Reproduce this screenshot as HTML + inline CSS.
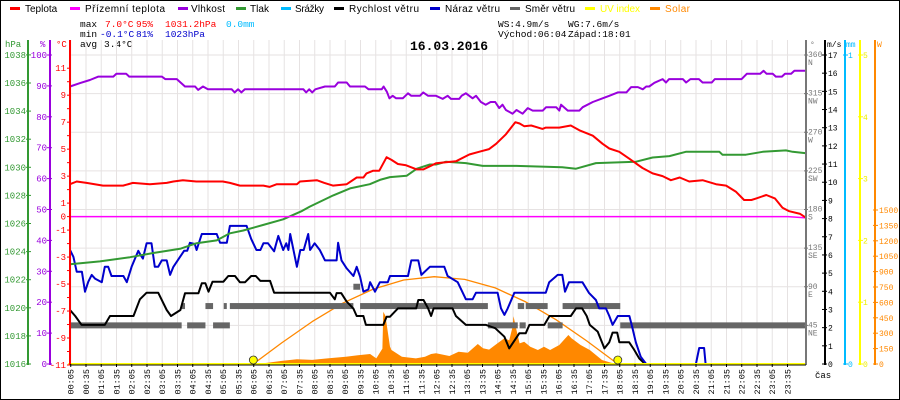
<!DOCTYPE html>
<html><head><meta charset="utf-8">
<style>
html,body{margin:0;padding:0;background:#fff}
svg{display:block;font-family:"Liberation Sans",sans-serif}
</style></head>
<body>
<svg id="c" width="900" height="400" viewBox="0 0 900 400" xmlns="http://www.w3.org/2000/svg">
<rect x="0.5" y="0.5" width="899" height="399" fill="#fff" stroke="#000"/>
<g font-size="10">
 <g><rect x="10" y="7" width="10" height="3" fill="#f00"/><text x="25" y="12">Teplota</text></g>
 <g><rect x="70" y="7" width="10" height="3" fill="#f0f"/><text x="85" y="12" textLength="80">Přízemní teplota</text></g>
 <g><rect x="178" y="7" width="10" height="3" fill="#90d"/><text x="191" y="12" textLength="34">Vlhkost</text></g>
 <g><rect x="236" y="7" width="10" height="3" fill="#393"/><text x="250" y="12" textLength="19">Tlak</text></g>
 <g><rect x="281" y="7" width="10" height="3" fill="#0bf"/><text x="295" y="12" textLength="29">Srážky</text></g>
 <g><rect x="334" y="7" width="10" height="3" fill="#000"/><text x="349" y="12" textLength="70">Rychlost větru</text></g>
 <g><rect x="430" y="7" width="10" height="3" fill="#00c"/><text x="445" y="12" textLength="55">Náraz větru</text></g>
 <g><rect x="510" y="7" width="10" height="3" fill="#666"/><text x="525" y="12" textLength="50">Směr větru</text></g>
 <g><rect x="585" y="7" width="10" height="3" fill="#ff0"/><text x="600" y="12" fill="#ff0" textLength="40">UV index</text></g>
 <g><rect x="650" y="7" width="10" height="3" fill="#f80"/><text x="665" y="12" fill="#f80" textLength="25">Solar</text></g>
</g>
<g font-size="9.5" font-family="Liberation Mono, monospace">
 <text x="80" y="27">max</text><text x="105" y="27" fill="#f00">7.0°C</text><text x="136" y="27" fill="#f00">95%</text><text x="165" y="27" fill="#f00">1031.2hPa</text><text x="226" y="27" fill="#0bf">0.0mm</text>
 <text x="80" y="37">min</text><text x="100" y="37" fill="#00c">-0.1°C</text><text x="136" y="37" fill="#00c">81%</text><text x="165" y="37" fill="#00c">1023hPa</text>
 <text x="80" y="47">avg</text><text x="104" y="47">3.4°C</text>
 <text x="498" y="27">WS:4.9m/s</text><text x="568" y="27">WG:7.6m/s</text>
 <text x="498" y="37">Východ:06:04</text><text x="568" y="37">Západ:18:01</text>
</g>
<g id="grid"></g>
<text x="449" y="50" text-anchor="middle" font-size="13" font-weight="bold" font-family="Liberation Mono, monospace">16.03.2016</text>
<g id="series"></g>
<g id="axes"></g>
</svg>
<script>
// ---- data ----
const tempT=[0.06,0.28,0.6,1.14,1.8,2.12,2.68,3.23,3.45,3.76,4.2,5.07,5.3,5.63,6.4,6.6,6.84,7.5,7.6,8.15,8.4,8.68,9.13,9.46,9.68,9.78,10.0,10.2,10.44,10.6,10.81,11.08,11.43,11.65,12.06,12.71,13.15,13.47,13.8,14.03,14.35,14.66,14.8,14.95,15.18,15.55,15.66,16.1,16.48,16.76,17.2,17.52,17.74,18.07,18.39,18.83,19.16,19.49,19.76,20.05,20.36,20.8,21.24,21.57,21.89,22.16,22.4,22.56,22.89,23.17,23.42,23.64,24.0,24.2];
const tempV=[2.4,2.6,2.5,2.3,2.3,2.5,2.4,2.5,2.6,2.7,2.6,2.6,2.5,2.3,2.3,2.2,2.4,2.4,2.6,2.7,2.5,2.3,2.4,2.9,2.9,3.2,3.4,3.4,4.4,4.2,3.9,3.8,3.5,3.5,3.95,4.1,4.6,4.8,5.0,5.4,6.1,7.0,6.9,6.7,6.75,6.5,6.6,6.6,6.75,6.4,6.0,5.4,5.05,4.8,4.3,3.6,3.2,3.0,2.7,2.9,2.6,2.7,2.4,2.3,1.85,1.23,1.23,1.35,1.6,1.35,0.66,0.4,0.2,-0.1];
const groundT=[0.06,23.6,24.2];
const groundV=[0,0,-0.1];
const humT=[0.06,0.39,0.71,0.99,1.48,1.58,1.9,2.0,3.07,3.18,3.56,3.83,4.16,4.26,4.42,4.58,5.36,5.46,5.57,5.68,5.79,7.71,7.8,7.9,8.0,8.1,8.42,8.74,8.85,9.13,9.24,9.73,9.85,10.28,10.34,10.45,10.53,10.64,10.75,10.97,11.14,11.25,11.53,11.64,11.8,12.06,12.28,12.44,12.55,12.82,12.9,13.04,13.26,13.37,13.53,13.69,13.85,14.0,14.13,14.24,14.35,14.57,14.7,14.9,15.07,15.23,15.56,15.67,16.0,16.1,16.16,16.38,16.76,16.87,17.2,17.52,17.74,18.02,18.3,18.46,18.68,18.84,18.95,19.05,19.22,19.49,19.6,19.7,20.15,20.26,20.4,20.68,20.8,21.1,21.2,22.08,22.25,22.69,22.8,22.9,23.1,23.2,23.4,23.5,23.7,23.81,24.2];
const humV=[89.8,90.9,91.9,93,93,93.9,93.9,93,93,92.2,92.2,89.8,89.8,88.7,89.8,88.9,88.9,87.9,88.9,87.9,88.9,88.9,87.9,88.9,87.9,88.9,89.8,89.8,91.1,91.1,89.8,89.8,88.9,88.9,89.8,88.1,86,86.8,86,86,87.6,86.8,86.8,87.9,86.8,86.8,85.8,86.8,85.8,85.8,86.8,87.6,86,86.8,84.8,83.9,84.8,84.8,82.8,83.9,82.2,81,82.2,81,82.8,82,82,83.1,83.1,82,83.9,82,82,83.1,84.8,86,86.8,87.9,87.9,89.6,89.6,88.9,89.8,89.8,91,92.2,91.1,92.2,92.2,91.1,92.2,92.2,91.1,91.1,92.2,92.2,93.9,93.9,94.9,93.9,93.9,93,93,93.9,93.9,94.9,94.9];
const presT=[0.06,1.04,2.03,2.79,3.67,4.21,4.87,5.3,5.74,6.4,7.05,7.67,7.92,8.69,9.24,9.89,10.22,10.55,11.1,11.43,11.86,12.06,12.39,13.04,13.59,14.7,16.2,16.65,17.3,18.62,19.16,19.71,20.25,21.35,21.45,22.22,22.77,23.53,23.75,24.2];
const presV=[1023.1,1023.3,1023.6,1023.9,1024.2,1024.6,1024.8,1025.3,1025.5,1025.9,1026.3,1026.9,1027.2,1028.0,1028.5,1028.8,1029.1,1029.3,1029.4,1029.9,1030.2,1030.2,1030.4,1030.3,1030.1,1030.1,1030.0,1029.9,1030.3,1030.4,1030.7,1030.8,1031.1,1031.1,1030.9,1030.9,1031.1,1031.2,1031.1,1031.0];
const speedT=[0.06,0.23,0.44,1.2,1.37,2.14,2.35,2.57,2.95,3.23,3.37,3.68,3.83,4.27,4.38,4.5,4.6,4.73,5.09,5.25,5.47,5.63,5.8,6.0,6.15,6.3,6.62,6.75,8.58,8.74,8.8,8.95,9.13,9.35,9.46,9.68,9.76,10.33,10.44,10.55,10.81,11.41,11.48,11.65,11.8,11.9,11.98,12.2,12.6,12.71,13.04,13.7,14.0,14.3,14.46,14.79,15.0,15.12,15.61,15.78,16.48,16.65,16.85,17.0,17.1,17.36,17.58,17.74,17.85,18.0,18.07,18.39,18.55,18.72,18.89,18.95,24.2];
const speedV=[2.97,2.64,2.15,2.15,2.64,2.64,3.56,3.92,3.92,2.97,2.64,2.97,3.89,3.89,4.44,4.44,3.98,4.53,4.53,4.84,4.84,4.5,4.5,4.84,4.84,4.57,4.57,3.92,3.92,3.56,3.9,3.9,3.43,3.05,2.64,2.64,2.15,2.15,2.6,2.6,3.06,3.06,3.52,3.52,3.06,2.64,3.06,3.06,3.06,2.64,2.15,2.15,1.97,1.5,0.86,1.69,1.69,2.15,2.15,2.64,2.64,3.06,3.06,2.64,2.15,1.78,0.86,1.2,1.73,1.73,1.2,1.2,0.8,0.31,0.04,0,0];
const gustT=[0.06,0.17,0.28,0.45,0.55,0.66,0.77,0.88,1.1,1.2,1.31,1.42,1.81,1.92,2.08,2.19,2.3,2.37,2.45,2.57,2.73,2.84,2.95,3.07,3.23,3.34,3.45,3.63,3.8,3.9,3.99,4.15,4.21,4.38,4.87,4.98,5.2,5.3,5.85,6.0,6.17,6.3,6.4,6.55,6.75,6.89,7.05,7.15,7.22,7.28,7.5,7.61,7.72,7.87,7.93,8.08,8.25,8.42,8.8,8.85,8.96,9.13,9.35,9.46,9.57,9.68,9.84,9.9,10.06,10.22,10.48,10.55,11.14,11.25,11.48,11.58,11.86,12.06,12.33,12.44,12.77,13.04,13.26,13.37,14.08,14.19,14.3,14.41,14.63,15.66,15.77,16.05,16.2,16.29,16.42,16.86,17.08,17.3,17.41,17.63,17.74,17.85,18.02,18.4,18.5,18.61,18.77,18.95,20.58,20.69,20.85,20.9,24.2];
const gustV=[6.27,5.9,5.08,5.08,3.98,4.53,4.9,4.7,4.5,5.35,5.35,4.84,4.84,4.5,5.35,5.8,6.23,6.0,5.8,6.64,6.64,5.35,5.35,5.7,5.7,4.9,5.35,5.8,6.23,6.23,6.67,6.6,6.27,7.15,7.15,6.67,6.67,7.6,7.6,6.88,6.27,6.27,6.64,6.64,6.2,7.05,6.27,6.64,6.27,7.15,5.35,6.27,6.27,7.15,6.27,6.64,6.27,5.7,5.7,6.67,5.7,5.26,4.84,5.35,4.8,3.98,4.1,4.5,3.98,4.5,4.5,4.84,4.84,5.7,5.7,4.9,5.35,5.35,5.35,4.84,4.5,3.56,3.56,3.92,3.92,3.06,2.7,3.06,3.92,3.92,4.5,4.9,4.9,3.98,4.5,4.5,3.9,3.52,3.06,3.06,2.64,2.15,2.64,2.64,1.97,1.2,0.4,0,0,0.88,0.88,0,0];
// wind direction segments: start hour, end hour, degrees
const dirStart=[0.06,3.72,3.9,4.5,4.75,5.1,5.3,9.35,9.57,13.76,14.74,14.8,15.0,15.72,16.21,18.1];
const dirEnd=[3.72,3.83,4.5,4.75,5.3,5.2,9.35,9.57,13.76,14.74,14.95,15.0,15.72,16.21,18.1,24.2];
const dirV=[45,67.5,45,67.5,45,67.5,67.5,90,67.5,45,67.5,45,67.5,45,67.5,45];
const solarT=[6.2,6.6,7.0,7.5,8.0,8.5,9.1,9.5,9.9,10.1,10.3,10.33,10.4,10.55,10.6,10.94,11.4,11.7,11.9,12.06,12.5,12.8,13.1,13.43,13.6,13.8,14.0,14.3,14.46,14.57,14.6,14.7,14.8,14.95,15.15,15.4,15.6,15.8,16.1,16.3,16.4,16.5,16.8,17.1,17.3,17.5,17.8,18.1];
const solarV=[0,15,30,46,40,55,71,85,97,55,150,509,470,168,136,71,55,71,97,104,78,120,110,195,153,140,185,250,230,363,467,330,201,217,168,136,168,136,185,250,282,250,185,136,88,39,13,0];
const theoT=[6.07,7,8,9,10,11,12,13,14,15,16,17,18.02];
const theoV=[0,206,413,592,730,818,850,824,741,605,431,225,0];
const uvT=[0,24.2];
const uvV=[0,0];
const hpaTicks=[1016,1018,1020,1022,1024,1026,1028,1030,1032,1034,1036,1038];
const humTicks=[0,10,20,30,40,50,60,70,80,90,100];
const tempLabels=[11,9,7,5,3,1,0,-1,-3,-5,-7,-9,-11];
const dirTicks=[45,90,135,180,225,270,315,360];
const dirNames=["NE","E","SE","S","SW","W","NW","N"];
const msTicks=[0,1,2,3,4,5,6,7,8,9,10,11,12,13,14,15,16,17];
const uvTicks=[0,1,2,3,4,5];
const wTicks=[0,150,300,450,600,750,900,1050,1200,1350,1500];
const timeLabels=[];for(let h=0;h<24;h++){const hh=String(h).padStart(2,'0');timeLabels.push(hh+':05',hh+':35');}

// ---- scales ----
const TOP=55,BOT=364;
const X=h=>68.2+h*30.5;
const yT=v=>216.6-v*13.49;
const yH=v=>364-v*3.09;
const yP=v=>364-(v-1016)*14.05;
const yS=v=>BOT-v*(309/17);
const yD=v=>BOT-v*(309/360);
const yW=v=>BOT-v*(154/1500);
const yUV=v=>BOT-v*(309/5);
const NS='http://www.w3.org/2000/svg';
function mk(tag,attrs,parent){const e=document.createElementNS(NS,tag);for(const k in attrs)e.setAttribute(k,attrs[k]);parent.appendChild(e);return e;}
const grid=document.getElementById('grid'),ser=document.getElementById('series'),ax=document.getElementById('axes');

for(let i=0;i<48;i++){const x=X(i*0.5+1/12);
 const l=mk('line',{x1:x,x2:x,y1:40,y2:BOT,stroke:'#e6e2e2','stroke-width':1},grid);
 
 }
dirTicks.forEach(d=>{const y=yD(d);
 const l=mk('line',{x1:70,x2:806,y1:y,y2:y,stroke:'#e6e2e2','stroke-width':1},grid);
 
 });

function line(T,V,fy,color,w,name){
 const pts=T.map((t,i)=>X(t).toFixed(1)+','+fy(V[i]).toFixed(1)).join(' ');
 const p=mk('polyline',{points:pts,fill:'none',stroke:color,'stroke-width':w,'stroke-linejoin':'round'},ser);
 
 
 return p;}

{const pts=[X(solarT[0])+','+BOT].concat(solarT.map((t,i)=>X(t).toFixed(1)+','+yW(solarV[i]).toFixed(1))).concat([X(solarT[solarT.length-1])+','+BOT]).join(' ');
 const p=mk('polygon',{points:pts,fill:'#f80',stroke:'none'},ser);
 
 }
line(theoT,theoV,yW,'#f80',1.3,'solar-theoretical-line');
dirV.forEach((d,i)=>{const y=yD(d);
 const r=mk('rect',{x:X(dirStart[i]),y:y-3,width:Math.max(1,X(dirEnd[i])-X(dirStart[i])),height:6,fill:'#666'},ser);
 
 });
line(speedT,speedV,yS,'#000',2,'wind-speed-line');
line(gustT,gustV,yS,'#00c',2,'wind-gust-line');
line(presT,presV,yP,'#393',2,'pressure-line');
line(humT,humV,yH,'#90d',2,'humidity-line');
line(groundT,groundV,yT,'#f0f',1.5,'ground-temp-line');
line(tempT,tempV,yT,'#f00',2,'temperature-line');
line(uvT,uvV,yUV,'#ff0',2,'uv-index-line');
[theoT[0],theoT[theoT.length-1]].forEach(t=>{
 const c=mk('circle',{cx:X(t),cy:BOT-4,r:4,fill:'#ff0',stroke:'#333','stroke-width':0.8},ser);
 
 });

function vaxis(x,color,name){const l=mk('line',{x1:x,x2:x,y1:40,y2:BOT+1,stroke:color,'stroke-width':2},ax);
 
 }
function txt(x,y,s,color,anchor,size,name){const t=mk('text',{x:x,y:y,fill:color,'font-size':size||9,'text-anchor':anchor||'start','font-family':'Liberation Mono, monospace'},ax);t.textContent=s;
 
 return t;}
function tick(x1,x2,y,color){const l=mk('line',{x1:x1,x2:x2,y1:y,y2:y,stroke:color,'stroke-width':1},ax);
 
 }
vaxis(28,'#393','pressure-axis');vaxis(50,'#90d','humidity-axis');vaxis(70,'#f00','temperature-axis');
txt(5,47,'hPa','#393','start',9,'pressure-axis-title');txt(40,47,'%','#90d','start',9,'humidity-axis-title');txt(56,47,'°C','#f00','start',9,'temperature-axis-title');
hpaTicks.forEach(v=>{const y=yP(v);tick(26,31,y,'#393');txt(26,y+3,String(v),'#393','end',9,'pressure-tick-label');});
humTicks.forEach(v=>{const y=yH(v);tick(47,52,y,'#90d');txt(47,y+3,String(v),'#90d','end',9,'humidity-tick-label');});
for(let v=-11;v<=11;v++){tick(67,70,yT(v),'#f00');}
tempLabels.forEach(v=>{txt(66,yT(v)+3,String(v),'#f00','end',9,'temperature-tick-label');});
vaxis(806,'#777','direction-axis');vaxis(825,'#000','wind-speed-axis');vaxis(845,'#0bf','rain-axis');vaxis(860,'#ff0','uv-axis');vaxis(875,'#f80','solar-axis');
txt(810,47,'°','#777','start',8,'direction-axis-title');txt(827,47,'m/s','#000','start',8,'wind-speed-axis-title');txt(846,47,'mm','#0bf','start',8,'rain-axis-title');txt(877,47,'W','#f80','start',8,'solar-axis-title');
dirTicks.forEach((d,i)=>{const y=yD(d);tick(804,808,y,'#777');txt(808,y+2,String(d),'#777','start',8,'direction-tick-label');txt(808,y+10,dirNames[i],'#777','start',8,'direction-name-label');});
msTicks.forEach(v=>{const y=yS(v);tick(822,827,y,'#000');txt(828,y+3,String(v),'#000','start',8,'wind-speed-tick-label');});
[0,1].forEach(v=>{const y=BOT-v*309;tick(843,848,y,'#0bf');txt(848,y+3,String(v),'#0bf','start',8,'rain-tick-label');});
uvTicks.forEach(v=>{const y=yUV(v);tick(858,863,y,'#ff0');txt(863,y+3,String(v),'#ee0','start',8,'uv-tick-label');});
wTicks.forEach(v=>{const y=yW(v);tick(873,878,y,'#f80');txt(879,y+3,String(v),'#f80','start',8,'solar-tick-label');});
{const l=mk('line',{x1:70,x2:806,y1:BOT+1,y2:BOT+1,stroke:'#000','stroke-width':1},ax);
 
 }
timeLabels.forEach((s,i)=>{const x=X(i*0.5+1/12);
 const tk=mk('line',{x1:x,x2:x,y1:BOT,y2:BOT+3,stroke:'#000'},ax);
 
 
 const t=txt(0,0,s,'#000','end',8.5,'x-tick-label');
 t.setAttribute('transform','translate('+(x+3)+','+369+') rotate(-90)');});
txt(815,378,'čas','#000','start',9,'x-axis-title');
</script>
</body></html>
